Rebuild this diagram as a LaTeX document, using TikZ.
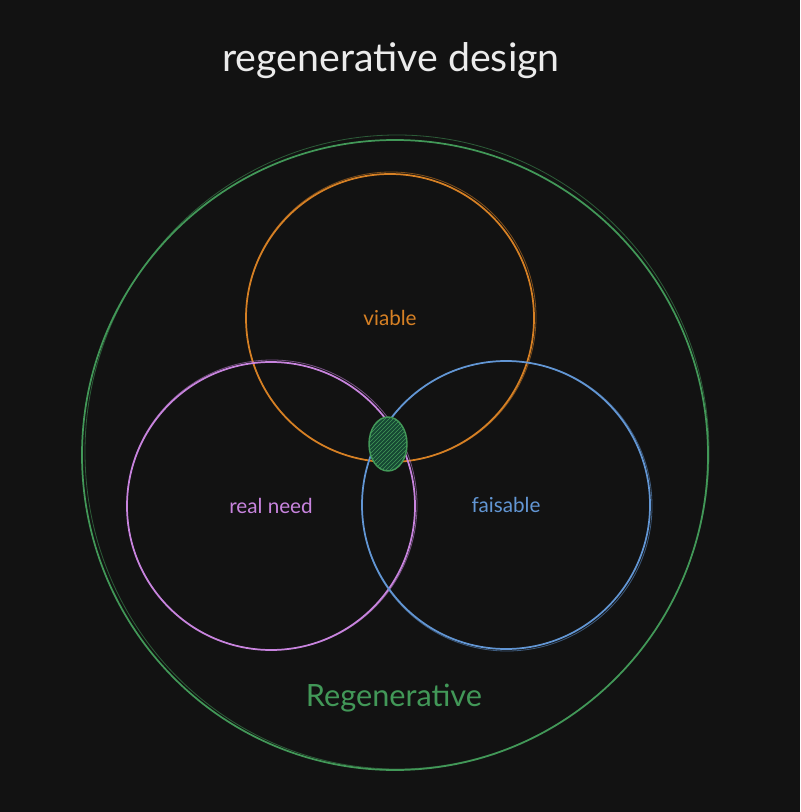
\documentclass[tikz,border=0pt]{standalone}
\usepackage{fontspec}
\setmainfont{Lato}
\usetikzlibrary{shapes.geometric,patterns}
\definecolor{bg}{HTML}{121212}
\definecolor{viableorange}{RGB}{214,128,36}
\definecolor{needpink}{RGB}{200,132,222}
\definecolor{faisblue}{RGB}{98,150,212}
\definecolor{regengreen}{RGB}{66,152,88}
\definecolor{coredark}{RGB}{22,72,52}
\tikzset{
  setcircle/.style={circle, draw=#1, line width=1.3pt, minimum size=216pt, inner sep=0pt, text=#1, font=\fontsize{15.5}{18}\selectfont},
  sketchline/.style={draw=#1, line width=0.6pt, opacity=0.55},
}
\begin{document}
\begin{tikzpicture}[x=0.75pt, y=-0.75pt]
  \fill[bg] (0,0) rectangle (800,812);
  \useasboundingbox (0,0) rectangle (800,812);
  % title
  \node[text=white!92!black, font=\fontsize{29.5}{34}\selectfont] (title) at (391,61) {regenerative design};
  % outer set
  \node[ellipse, draw=regengreen, line width=1.3pt, minimum width=469.5pt, minimum height=472.5pt, inner sep=0pt] (regen) at (395,455) {};
  \draw[sketchline=regengreen] (397,452) ellipse (312 and 317);
  \node[text=regengreen, font=\fontsize{23}{27}\selectfont] (regenlabel) at (394,698) {Regenerative};
  % three sets
  \node[setcircle=viableorange] (viable) at (390,318) {viable};
  \draw[sketchline=viableorange] (391,317) circle (145);
  \node[setcircle=needpink] (need) at (271,506) {real need};
  \draw[sketchline=needpink] (272,505) circle (145);
  \node[setcircle=faisblue] (faisable) at (506,505) {faisable};
  \draw[sketchline=faisblue] (507,506) circle (145);
  % overlap
  \node[ellipse, draw=regengreen, line width=1.1pt, fill=coredark, postaction={pattern=north east lines, pattern color=regengreen}, minimum width=28.5pt, minimum height=40.5pt, inner sep=0pt] (core) at (388,444) {};
\end{tikzpicture}
\end{document}
